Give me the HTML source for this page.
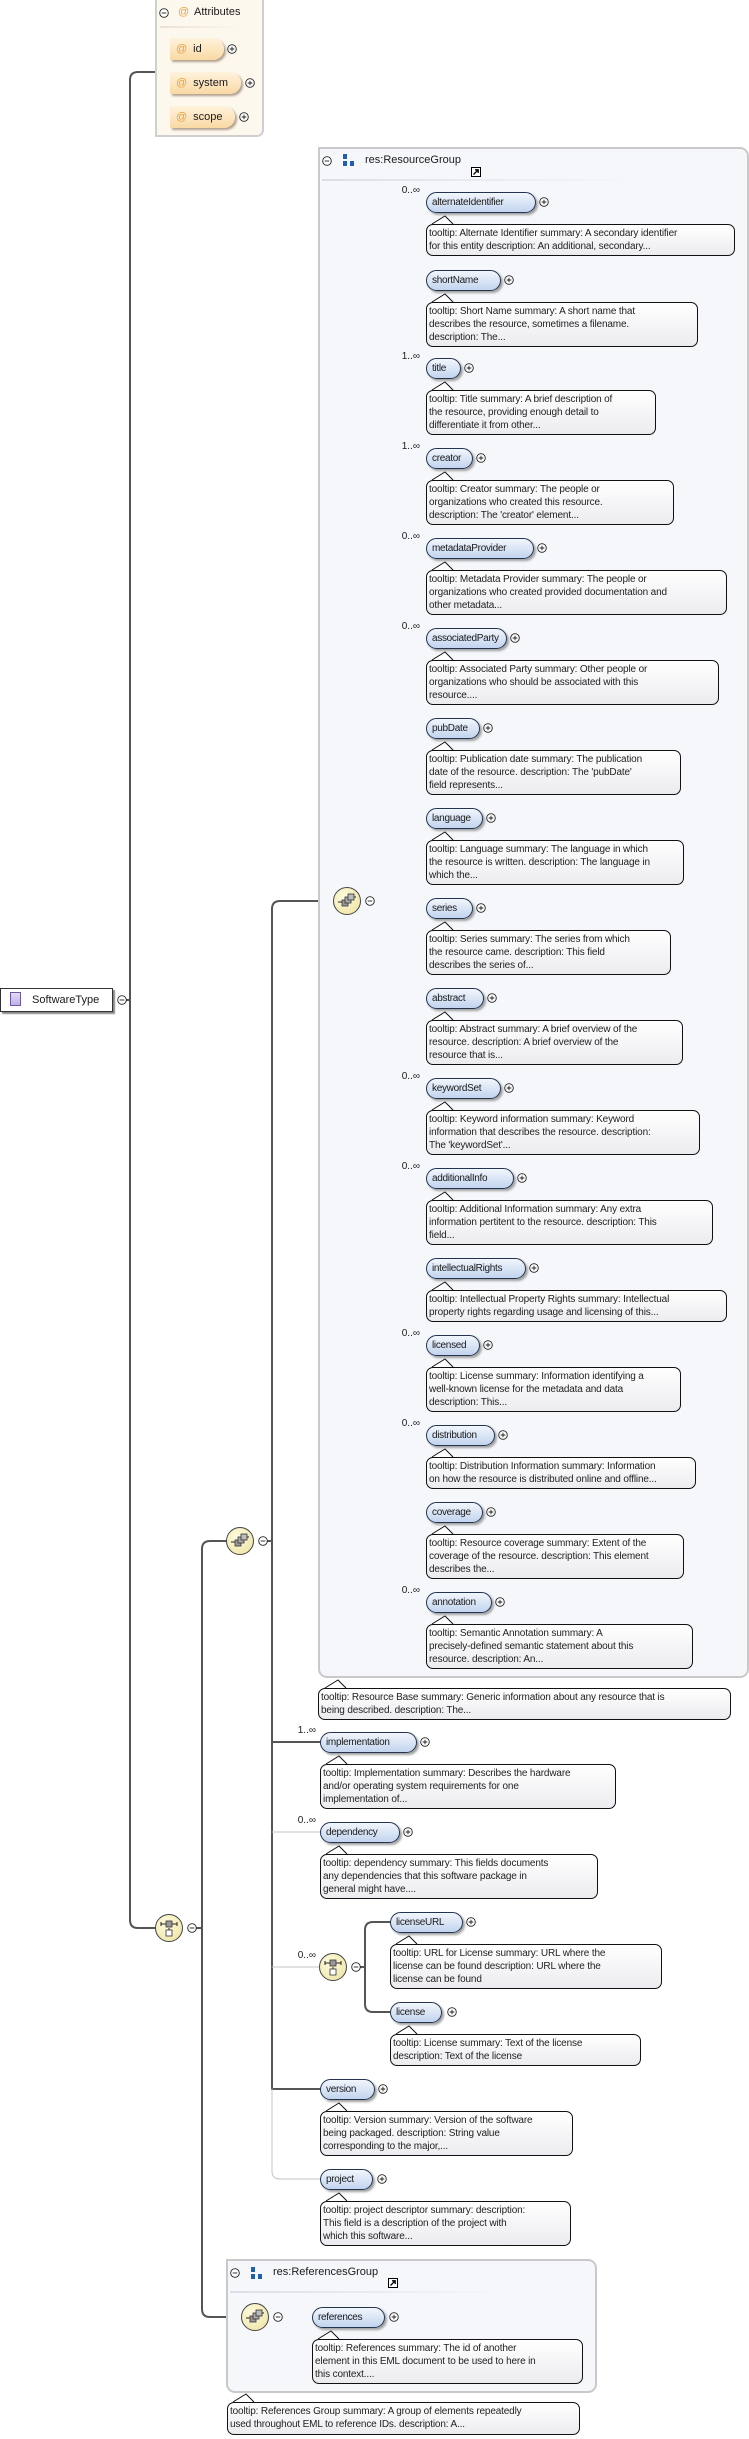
<!DOCTYPE html>
<html><head><meta charset="utf-8">
<style>
html,body{margin:0;padding:0;background:#fff;}
body{width:749px;height:2439px;position:relative;overflow:hidden;font-family:"Liberation Sans",sans-serif;color:#1a1a1a;}
.a{position:absolute;}
.p{position:absolute;height:21px;border:1px solid #24344f;border-radius:11px;background:linear-gradient(#f2f6fc,#c2d4ef);box-shadow:2px 2px 2px #a0a0a0;font-size:10px;line-height:20px;padding-left:5px;box-sizing:border-box;letter-spacing:-0.3px;white-space:nowrap;overflow:hidden;}
.t{position:absolute;border:1px solid #111;border-radius:7px;background:linear-gradient(#ffffff,#ececf0);font-size:10px;line-height:13px;padding:2px 2px;box-sizing:border-box;white-space:nowrap;letter-spacing:-0.15px;color:#222;}
.c{position:absolute;font-size:10px;text-align:right;width:30px;white-space:nowrap;}
.ap{position:absolute;height:22px;border-radius:0 11px 11px 0;background:linear-gradient(#fff3dd,#f9d9a4);box-shadow:2px 2px 2px #b0a090;font-size:11px;line-height:22px;padding-left:6px;box-sizing:border-box;white-space:nowrap;}
.ap b{color:#eaa040;font-weight:normal;margin-right:6px;}
.box{position:absolute;border:2px solid #c9c9c9;border-radius:0 9px 9px 9px;background:#f5f7fb;box-sizing:border-box;}
</style></head><body>

<svg class="a" style="left:0;top:0" width="749" height="2439">
<g fill="none" stroke-linecap="round">
<path d="M126,1000 H130" stroke="#555" stroke-width="2"/>
<path d="M155,72 H138 Q130,72 130,80 V1920 Q130,1928 138,1928 H155" stroke="#555" stroke-width="2"/>
<path d="M197,1928 H202" stroke="#555" stroke-width="2"/>
<path d="M226,1541 H210 Q202,1541 202,1549 V2309 Q202,2317 210,2317 H241" stroke="#555" stroke-width="2"/>
<path d="M268,1541 H272" stroke="#555" stroke-width="2"/>
<path d="M333,901 H280 Q272,901 272,909 V2089 H320" stroke="#555" stroke-width="2"/>
<path d="M272,1742 H320" stroke="#555" stroke-width="2"/>
<path d="M272,2089 V2171 Q272,2179 280,2179 H320" stroke="#c4c4c4" stroke-width="1"/>
<path d="M272,1832 H320 M272,1967 H319" stroke="#c4c4c4" stroke-width="1"/>
<path d="M361,1967 H365" stroke="#555" stroke-width="2"/>
<path d="M390,1922 H373 Q365,1922 365,1930 V2004 Q365,2012 373,2012 H390" stroke="#555" stroke-width="2"/>
<path d="M283,2317 H312" stroke="#555" stroke-width="2"/>
<path d="M426,202 H387 Q379,202 379,210 V1594 Q379,1602 387,1602 H426" stroke="#c4c4c4" stroke-width="1"/>
<path d="M379,280 H426 M379,548 H426 M379,638 H426 M379,728 H426 M379,818 H426 M379,908 H426 M379,998 H426 M379,1088 H426 M379,1178 H426 M379,1268 H426 M379,1345 H426 M379,1435 H426 M379,1512 H426" stroke="#c4c4c4" stroke-width="1"/>
<path d="M426,368 H379 V901 H375 M379,458 H426" stroke="#555" stroke-width="2"/>
</g>
</svg>

<div class="a" style="left:155px;top:0;width:109px;height:137px;border:2px solid #cfcfcf;border-top:none;border-radius:0 0 7px 0;background:#fdf8ee;box-sizing:border-box;"></div>
<div class="a" style="left:160px;top:26px;width:80px;height:2px;background:linear-gradient(90deg,#e8e2d6,#fdf8ee);"></div>
<div class="a" style="left:178px;top:6px;font-size:11px;color:#eaa040;">@</div>
<div class="a" style="left:194px;top:6px;font-size:11px;">Attributes</div>
<div class="ap" style="left:170px;top:38px;width:54px;"><b>@</b>id</div>
<div class="ap" style="left:170px;top:72px;width:71px;"><b>@</b>system</div>
<div class="ap" style="left:170px;top:106px;width:65px;"><b>@</b>scope</div>

<div class="a" style="left:0;top:988px;width:113px;height:24px;border:1px solid #333;background:#fff;box-shadow:2px 2px 1px #888;box-sizing:border-box;font-size:11px;line-height:22px;padding-left:31px;">SoftwareType</div>
<div class="a" style="left:10px;top:992px;width:11px;height:14px;border:1px solid #6a5aa8;background:linear-gradient(#e4dcf6,#bfb0e4);box-sizing:border-box;"></div>

<div class="box" style="left:318px;top:147px;width:431px;height:1531px;"></div>
<div class="a" style="left:322px;top:179px;width:320px;height:2px;background:linear-gradient(90deg,#dcdfe6,#f5f7fb);"></div>
<div class="a" style="left:365px;top:154px;font-size:11px;">res:ResourceGroup</div>

<div class="box" style="left:226px;top:2259px;width:371px;height:134px;"></div>
<div class="a" style="left:230px;top:2291px;width:275px;height:2px;background:linear-gradient(90deg,#dcdfe6,#f5f7fb);"></div>
<div class="a" style="left:273px;top:2266px;font-size:11px;">res:ReferencesGroup</div>

<div class="c" style="left:390px;top:185px;">0..∞</div>
<div class="p" style="left:426px;top:192px;width:110px;">alternateIdentifier</div>
<div class="t" style="left:426px;top:224px;width:309px;height:32px;">tooltip: Alternate Identifier summary: A secondary identifier<br>for this entity description: An additional, secondary...</div>

<div class="p" style="left:426px;top:270px;width:75px;">shortName</div>
<div class="t" style="left:426px;top:302px;width:272px;height:45px;">tooltip: Short Name summary: A short name that<br>describes the resource, sometimes a filename.<br>description: The...</div>

<div class="c" style="left:390px;top:351px;">1..∞</div>
<div class="p" style="left:426px;top:358px;width:35px;">title</div>
<div class="t" style="left:426px;top:390px;width:230px;height:45px;">tooltip: Title summary: A brief description of<br>the resource, providing enough detail to<br>differentiate it from other...</div>

<div class="c" style="left:390px;top:441px;">1..∞</div>
<div class="p" style="left:426px;top:448px;width:47px;">creator</div>
<div class="t" style="left:426px;top:480px;width:248px;height:45px;">tooltip: Creator summary: The people or<br>organizations who created this resource.<br>description: The 'creator' element...</div>

<div class="c" style="left:390px;top:531px;">0..∞</div>
<div class="p" style="left:426px;top:538px;width:108px;">metadataProvider</div>
<div class="t" style="left:426px;top:570px;width:301px;height:45px;">tooltip: Metadata Provider summary: The people or<br>organizations who created provided documentation and<br>other metadata...</div>

<div class="c" style="left:390px;top:621px;">0..∞</div>
<div class="p" style="left:426px;top:628px;width:81px;">associatedParty</div>
<div class="t" style="left:426px;top:660px;width:293px;height:45px;">tooltip: Associated Party summary: Other people or<br>organizations who should be associated with this<br>resource....</div>

<div class="p" style="left:426px;top:718px;width:54px;">pubDate</div>
<div class="t" style="left:426px;top:750px;width:255px;height:45px;">tooltip: Publication date summary: The publication<br>date of the resource. description: The 'pubDate'<br>field represents...</div>

<div class="p" style="left:426px;top:808px;width:57px;">language</div>
<div class="t" style="left:426px;top:840px;width:258px;height:45px;">tooltip: Language summary: The language in which<br>the resource is written. description: The language in<br>which the...</div>

<div class="p" style="left:426px;top:898px;width:47px;">series</div>
<div class="t" style="left:426px;top:930px;width:245px;height:45px;">tooltip: Series summary: The series from which<br>the resource came. description: This field<br>describes the series of...</div>

<div class="p" style="left:426px;top:988px;width:58px;">abstract</div>
<div class="t" style="left:426px;top:1020px;width:257px;height:45px;">tooltip: Abstract summary: A brief overview of the<br>resource. description: A brief overview of the<br>resource that is...</div>

<div class="c" style="left:390px;top:1071px;">0..∞</div>
<div class="p" style="left:426px;top:1078px;width:75px;">keywordSet</div>
<div class="t" style="left:426px;top:1110px;width:274px;height:45px;">tooltip: Keyword information summary: Keyword<br>information that describes the resource. description:<br>The 'keywordSet'...</div>

<div class="c" style="left:390px;top:1161px;">0..∞</div>
<div class="p" style="left:426px;top:1168px;width:88px;">additionalInfo</div>
<div class="t" style="left:426px;top:1200px;width:287px;height:45px;">tooltip: Additional Information summary: Any extra<br>information pertitent to the resource. description: This<br>field...</div>

<div class="p" style="left:426px;top:1258px;width:100px;">intellectualRights</div>
<div class="t" style="left:426px;top:1290px;width:301px;height:32px;">tooltip: Intellectual Property Rights summary: Intellectual<br>property rights regarding usage and licensing of this...</div>

<div class="c" style="left:390px;top:1328px;">0..∞</div>
<div class="p" style="left:426px;top:1335px;width:54px;">licensed</div>
<div class="t" style="left:426px;top:1367px;width:255px;height:45px;">tooltip: License summary: Information identifying a<br>well-known license for the metadata and data<br>description: This...</div>

<div class="c" style="left:390px;top:1418px;">0..∞</div>
<div class="p" style="left:426px;top:1425px;width:69px;">distribution</div>
<div class="t" style="left:426px;top:1457px;width:270px;height:32px;">tooltip: Distribution Information summary: Information<br>on how the resource is distributed online and offline...</div>

<div class="p" style="left:426px;top:1502px;width:57px;">coverage</div>
<div class="t" style="left:426px;top:1534px;width:258px;height:45px;">tooltip: Resource coverage summary: Extent of the<br>coverage of the resource. description: This element<br>describes the...</div>

<div class="c" style="left:390px;top:1585px;">0..∞</div>
<div class="p" style="left:426px;top:1592px;width:66px;">annotation</div>
<div class="t" style="left:426px;top:1624px;width:267px;height:45px;">tooltip: Semantic Annotation summary: A<br>precisely-defined semantic statement about this<br>resource. description: An...</div>

<div class="t" style="left:318px;top:1688px;width:413px;height:32px;">tooltip: Resource Base summary: Generic information about any resource that is<br>being described. description: The...</div>

<div class="c" style="left:286px;top:1725px;">1..∞</div>
<div class="p" style="left:320px;top:1732px;width:97px;">implementation</div>
<div class="t" style="left:320px;top:1764px;width:296px;height:45px;">tooltip: Implementation summary: Describes the hardware<br>and/or operating system requirements for one<br>implementation of...</div>

<div class="c" style="left:286px;top:1815px;">0..∞</div>
<div class="p" style="left:320px;top:1822px;width:80px;">dependency</div>
<div class="t" style="left:320px;top:1854px;width:278px;height:45px;">tooltip: dependency summary: This fields documents<br>any dependencies that this software package in<br>general might have....</div>

<div class="c" style="left:286px;top:1950px;">0..∞</div>
<div class="p" style="left:390px;top:1912px;width:73px;">licenseURL</div>
<div class="t" style="left:390px;top:1944px;width:272px;height:45px;">tooltip: URL for License summary: URL where the<br>license can be found description: URL where the<br>license can be found</div>

<div class="p" style="left:390px;top:2002px;width:52px;">license</div>
<div class="t" style="left:390px;top:2034px;width:251px;height:32px;">tooltip: License summary: Text of the license<br>description: Text of the license</div>

<div class="p" style="left:320px;top:2079px;width:55px;">version</div>
<div class="t" style="left:320px;top:2111px;width:253px;height:45px;">tooltip: Version summary: Version of the software<br>being packaged. description: String value<br>corresponding to the major,...</div>

<div class="p" style="left:320px;top:2169px;width:53px;">project</div>
<div class="t" style="left:320px;top:2201px;width:251px;height:45px;">tooltip: project descriptor summary: description:<br>This field is a description of the project with<br>which this software...</div>

<div class="p" style="left:312px;top:2307px;width:73px;">references</div>
<div class="t" style="left:312px;top:2339px;width:271px;height:45px;">tooltip: References summary: The id of another<br>element in this EML document to be used to here in<br>this context....</div>

<div class="t" style="left:227px;top:2402px;width:353px;height:33px;">tooltip: References Group summary: A group of elements repeatedly<br>used throughout EML to reference IDs. description: A...</div>

<svg class="a" style="left:0;top:0" width="749" height="2439">
<defs>
<radialGradient id="cg" cx="40%" cy="35%" r="70%"><stop offset="0" stop-color="#fffbe0"/><stop offset="1" stop-color="#efe6a8"/></radialGradient>
<symbol id="seq" viewBox="-14 -14 28 28" overflow="visible">
<circle r="13.5" fill="url(#cg)" stroke="#444" stroke-width="1"/>
<path d="M-9,1 H-5 M5,-4 H9" stroke="#222" stroke-width="1"/>
<rect x="-5" y="-1" width="6" height="6" fill="#999" stroke="#333" stroke-width="0.8"/>
<rect x="-2" y="-4" width="6" height="6" fill="#aaa" stroke="#333" stroke-width="0.8"/>
<rect x="1" y="-7" width="6" height="6" fill="#bbb" stroke="#333" stroke-width="0.8"/>
</symbol>
<symbol id="cho" viewBox="-14 -14 28 28" overflow="visible">
<circle r="13.5" fill="url(#cg)" stroke="#444" stroke-width="1"/>
<path d="M-8,-4 H8 M-8,-6 V-2 M8,-6 V-2 M0,0 V2" stroke="#222" stroke-width="1"/>
<rect x="-3" y="-7" width="6" height="6" fill="#999" stroke="#333" stroke-width="0.8"/>
<rect x="-3" y="2" width="6" height="6" fill="#fff" stroke="#333" stroke-width="0.8"/>
</symbol>
<symbol id="pl" viewBox="-5 -5 10 10" overflow="visible"><circle r="4.3" fill="#fff" stroke="#222" stroke-width="0.9"/><path d="M-2.3,0 H2.3 M0,-2.3 V2.3" stroke="#222" stroke-width="0.9"/></symbol>
<symbol id="mi" viewBox="-5 -5 10 10" overflow="visible"><circle r="4.3" fill="#fff" stroke="#222" stroke-width="0.9"/><path d="M-2.3,0 H2.3" stroke="#222" stroke-width="0.9"/></symbol>
<symbol id="tp" viewBox="0 0 22 9" overflow="visible"><polygon points="0,8 13,0 21,8" fill="#fff"/><polyline points="0,8 13,0 21,8" fill="none" stroke="#111" stroke-width="1"/></symbol>
<symbol id="jmp" viewBox="0 0 10 10" overflow="visible"><rect x="0.5" y="0.5" width="9" height="9" fill="#fff" stroke="#000"/><path d="M2.5,7.5 L7,3 M4,2.8 H7.2 V6" stroke="#000" stroke-width="1.3" fill="none"/></symbol>
<symbol id="grp" viewBox="0 0 12 12" overflow="visible"><rect x="0" y="0" width="4" height="5" fill="#1f5fb0"/><rect x="0" y="7" width="4" height="5" fill="#1f5fb0"/><rect x="7" y="7" width="4" height="5" fill="#1f5fb0"/></symbol>
</defs>
<use href="#mi" x="159" y="8" width="10" height="10"/>
<use href="#pl" x="227" y="44" width="10" height="10"/>
<use href="#pl" x="245" y="78" width="10" height="10"/>
<use href="#pl" x="239" y="112" width="10" height="10"/>
<use href="#mi" x="117" y="995" width="10" height="10"/>
<use href="#mi" x="322" y="156" width="10" height="10"/>
<use href="#grp" x="343" y="154" width="12" height="12"/>
<use href="#jmp" x="471" y="167" width="10" height="10"/>
<use href="#mi" x="230" y="2268" width="10" height="10"/>
<use href="#grp" x="251" y="2267" width="12" height="12"/>
<use href="#jmp" x="388" y="2278" width="10" height="10"/>
<use href="#seq" x="333" y="887" width="28" height="28"/>
<use href="#mi" x="365" y="896" width="10" height="10"/>
<use href="#seq" x="226" y="1527" width="28" height="28"/>
<use href="#mi" x="258" y="1536" width="10" height="10"/>
<use href="#cho" x="155" y="1914" width="28" height="28"/>
<use href="#mi" x="187" y="1923" width="10" height="10"/>
<use href="#cho" x="319" y="1953" width="28" height="28"/>
<use href="#mi" x="351" y="1962" width="10" height="10"/>
<use href="#seq" x="241" y="2303" width="28" height="28"/>
<use href="#mi" x="273" y="2312" width="10" height="10"/>
<use href="#pl" x="539" y="197" width="10" height="10"/>
<use href="#pl" x="504" y="275" width="10" height="10"/>
<use href="#pl" x="464" y="363" width="10" height="10"/>
<use href="#pl" x="476" y="453" width="10" height="10"/>
<use href="#pl" x="537" y="543" width="10" height="10"/>
<use href="#pl" x="510" y="633" width="10" height="10"/>
<use href="#pl" x="483" y="723" width="10" height="10"/>
<use href="#pl" x="486" y="813" width="10" height="10"/>
<use href="#pl" x="476" y="903" width="10" height="10"/>
<use href="#pl" x="487" y="993" width="10" height="10"/>
<use href="#pl" x="504" y="1083" width="10" height="10"/>
<use href="#pl" x="517" y="1173" width="10" height="10"/>
<use href="#pl" x="529" y="1263" width="10" height="10"/>
<use href="#pl" x="483" y="1340" width="10" height="10"/>
<use href="#pl" x="498" y="1430" width="10" height="10"/>
<use href="#pl" x="486" y="1507" width="10" height="10"/>
<use href="#pl" x="495" y="1597" width="10" height="10"/>
<use href="#pl" x="420" y="1737" width="10" height="10"/>
<use href="#pl" x="403" y="1827" width="10" height="10"/>
<use href="#pl" x="466" y="1917" width="10" height="10"/>
<use href="#pl" x="447" y="2007" width="10" height="10"/>
<use href="#pl" x="378" y="2084" width="10" height="10"/>
<use href="#pl" x="377" y="2174" width="10" height="10"/>
<use href="#pl" x="389" y="2312" width="10" height="10"/>
<use href="#tp" x="432" y="216" width="22" height="9"/>
<use href="#tp" x="432" y="294" width="22" height="9"/>
<use href="#tp" x="432" y="382" width="22" height="9"/>
<use href="#tp" x="432" y="472" width="22" height="9"/>
<use href="#tp" x="432" y="562" width="22" height="9"/>
<use href="#tp" x="432" y="652" width="22" height="9"/>
<use href="#tp" x="432" y="742" width="22" height="9"/>
<use href="#tp" x="432" y="832" width="22" height="9"/>
<use href="#tp" x="432" y="922" width="22" height="9"/>
<use href="#tp" x="432" y="1012" width="22" height="9"/>
<use href="#tp" x="432" y="1102" width="22" height="9"/>
<use href="#tp" x="432" y="1192" width="22" height="9"/>
<use href="#tp" x="432" y="1282" width="22" height="9"/>
<use href="#tp" x="432" y="1359" width="22" height="9"/>
<use href="#tp" x="432" y="1449" width="22" height="9"/>
<use href="#tp" x="432" y="1526" width="22" height="9"/>
<use href="#tp" x="432" y="1616" width="22" height="9"/>
<use href="#tp" x="325" y="1680" width="22" height="9"/>
<use href="#tp" x="326" y="1756" width="22" height="9"/>
<use href="#tp" x="326" y="1846" width="22" height="9"/>
<use href="#tp" x="396" y="1936" width="22" height="9"/>
<use href="#tp" x="396" y="2026" width="22" height="9"/>
<use href="#tp" x="326" y="2103" width="22" height="9"/>
<use href="#tp" x="326" y="2193" width="22" height="9"/>
<use href="#tp" x="318" y="2331" width="22" height="9"/>
<use href="#tp" x="233" y="2394" width="22" height="9"/>
</svg>
</body></html>
